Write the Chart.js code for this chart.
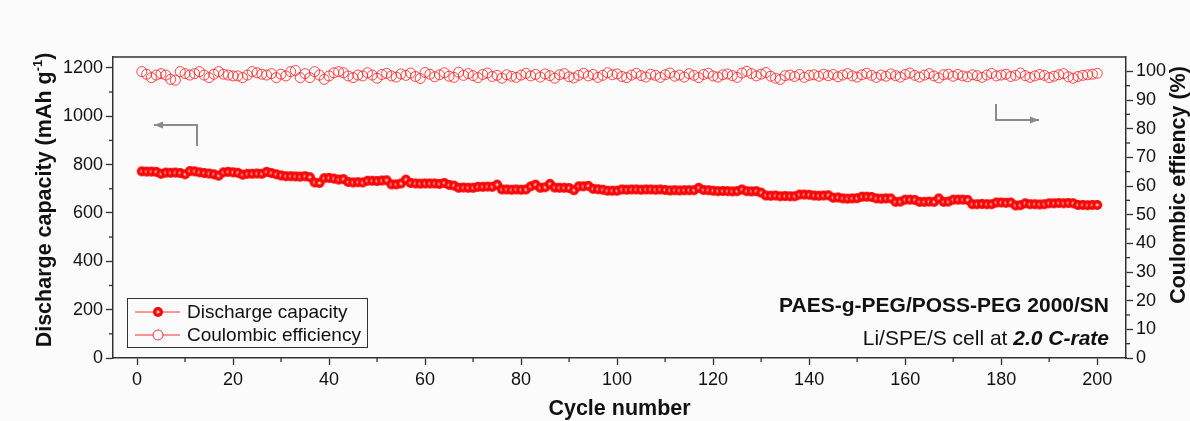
<!DOCTYPE html>
<html>
<head>
<meta charset="utf-8">
<script src="https://cdn.jsdelivr.net/npm/chart.js@4"></script>
<style>
html,body{margin:0;padding:0;background:#fbfbfb;}
#wrap{width:1190px;height:421px;position:relative;}
</style>
</head>
<body>
<div id="wrap"><canvas id="cv"></canvas></div>
<script>
// cycle numbers 1..200
const cycles=Array.from({length:200},(_,i)=>i+1);

// discharge capacity (mAh g-1)
const capacity=[
 772,771,771,770,762,767,766,767,765,760,
 773,772,768,765,763,760,754,768,770,768,
 766,758,762,762,763,762,770,765,760,755,
 752,752,751,750,752,748,726,724,744,745,
 742,738,740,728,726,727,726,733,733,732,
 734,735,718,718,722,738,724,722,721,722,
 722,722,720,724,716,713,704,705,704,704,
 708,708,709,708,717,697,697,696,697,696,
 697,710,717,704,706,720,705,704,704,703,
 694,710,710,712,700,698,696,692,692,692,
 697,696,697,697,696,697,697,696,697,695,
 693,694,693,694,694,694,704,695,694,692,
 690,691,690,689,690,697,690,689,690,684,
 672,671,672,669,670,669,669,676,676,675,
 672,671,672,673,663,664,660,659,660,661,
 667,667,666,660,659,660,660,646,647,655,
 655,654,646,646,647,646,660,646,647,655,
 655,655,654,636,636,637,636,636,643,643,
 642,643,631,632,640,636,636,635,636,640,
 640,641,640,641,640,633,633,632,633,633
];

// coulombic efficiency (%)
const efficiency=[
 99.9,99.0,97.8,98.7,99.2,98.7,97.2,96.9,99.9,99.2,
 98.7,99.2,99.9,98.7,97.8,99.0,99.9,99.0,98.7,98.4,
 98.4,97.8,98.7,99.9,99.5,99.0,98.7,99.2,97.8,99.0,
 98.4,99.9,100.3,97.8,99.2,97.8,99.9,98.7,97.2,98.4,
 99.5,99.9,99.5,98.4,97.8,98.7,98.4,99.5,98.7,97.6,
 98.9,99.3,98.4,98.0,99.1,98.6,99.4,98.2,97.5,99.6,
 99.0,98.1,98.8,99.5,98.3,97.9,99.7,98.6,99.2,98.5,
 97.8,98.9,99.4,98.2,98.6,97.6,98.8,98.3,97.9,98.7,
 99.3,98.4,98.9,98.0,99.1,98.5,97.6,98.8,99.2,98.1,
 97.7,98.6,99.3,98.4,98.9,97.9,98.6,99.5,98.8,99.1,
 98.2,97.8,98.7,99.3,98.5,98.0,99.0,98.6,97.9,98.8,
 99.4,98.3,98.7,98.0,99.2,98.6,97.8,98.9,99.3,98.4,
 98.0,98.8,99.1,98.5,97.9,99.4,100.0,99.2,98.4,99.0,
 99.6,98.3,97.6,97.2,98.5,98.7,98.2,98.9,97.9,98.6,
 98.8,98.3,99.0,98.5,98.9,98.1,98.7,99.2,98.4,98.0,
 98.8,99.3,98.6,97.9,98.7,98.3,99.1,98.5,98.0,98.9,
 99.4,98.6,98.0,98.7,99.2,98.4,97.7,98.8,99.0,98.3,
 98.9,98.4,98.1,98.8,98.5,97.9,98.7,99.3,98.4,98.7,
 99.0,98.2,98.6,99.4,98.5,97.9,98.4,98.9,98.6,97.8,
 98.3,98.8,99.2,98.1,97.6,98.2,98.6,98.8,99.0,99.3
];

// ticks
const xTicks=[0,20,40,60,80,100,120,140,160,180,200];
const xMinor=[10,30,50,70,90,110,130,150,170,190];
const yTicks=[0,200,400,600,800,1000,1200];
const yMinor=[100,300,500,700,900,1100];
const y1Ticks=[0,10,20,30,40,50,60,70,80,90,100];
const y1Minor=[5,15,25,35,45,55,65,75,85,95];

const xTitle='Cycle number';
const yTitle='Discharge capacity (mAh g';
const y1Title='Coulombic effiency (%)';
const legendLabels=['Discharge capacity','Coulombic efficiency'];
const sampleName='PAES-g-PEG/POSS-PEG 2000/SN';

const FONT='"Liberation Sans", Arial, sans-serif';
const AX='#333';

function sphere(r){
  const c=document.createElement('canvas');const s=r*2+2;c.width=c.height=s;
  const g=c.getContext('2d');
  const grd=g.createRadialGradient(s/2,s/2,0,s/2,s/2,r);
  grd.addColorStop(0,'#ffffff');grd.addColorStop(0.18,'#ffb0b0');grd.addColorStop(0.4,'#ff1010');grd.addColorStop(1,'#f40000');
  g.fillStyle=grd;g.beginPath();g.arc(s/2,s/2,r,0,Math.PI*2);g.fill();
  return c;
}
const ball=sphere(5);

function arrow(ctx,pts,dir){
  ctx.save();ctx.strokeStyle='#8a8a8a';ctx.fillStyle='#8a8a8a';ctx.lineWidth=2;
  ctx.beginPath();ctx.moveTo(pts[0][0],pts[0][1]);
  for(let i=1;i<pts.length;i++)ctx.lineTo(pts[i][0],pts[i][1]);
  ctx.stroke();
  const [ex,ey]=pts[pts.length-1];
  ctx.beginPath();ctx.moveTo(ex,ey);ctx.lineTo(ex-dir*9,ey-3.5);ctx.lineTo(ex-dir*9,ey+3.5);ctx.closePath();ctx.fill();
  ctx.restore();
}

const deco={
  id:'deco',
  afterDraw(chart){
    const {ctx,chartArea:a,scales:{x,y,y1}}=chart;
    ctx.save();
    // frame top
    ctx.strokeStyle=AX;ctx.lineWidth=1.5;
    ctx.beginPath();ctx.moveTo(a.left,a.top);ctx.lineTo(a.right,a.top);ctx.stroke();
    // minor ticks
    ctx.lineWidth=1.3;
    xMinor.forEach(v=>{const px=x.getPixelForValue(v);ctx.beginPath();ctx.moveTo(px,a.bottom);ctx.lineTo(px,a.bottom+4);ctx.stroke();});
    yMinor.forEach(v=>{const py=y.getPixelForValue(v);ctx.beginPath();ctx.moveTo(a.left,py);ctx.lineTo(a.left-4,py);ctx.stroke();});
    y1Minor.forEach(v=>{const py=y1.getPixelForValue(v);ctx.beginPath();ctx.moveTo(a.right,py);ctx.lineTo(a.right+4,py);ctx.stroke();});

    // axis titles
    ctx.fillStyle='#111';ctx.textAlign='center';ctx.textBaseline='middle';
    ctx.font=`bold 21.5px ${FONT}`;
    ctx.fillText(xTitle,(a.left+a.right)/2,409);
    ctx.save();ctx.translate(45,200);ctx.rotate(-Math.PI/2);
    const w1=ctx.measureText(yTitle).width;ctx.font=`bold 13px ${FONT}`;const ws=ctx.measureText('-1').width;
    ctx.font=`bold 21.5px ${FONT}`;const w2=ctx.measureText(')').width;
    const tot=w1+ws+w2;ctx.textAlign='left';
    ctx.fillText(yTitle,-tot/2,0);
    ctx.font=`bold 13px ${FONT}`;ctx.fillText('-1',-tot/2+w1,-7);
    ctx.font=`bold 21.5px ${FONT}`;ctx.fillText(')',-tot/2+w1+ws,0);
    ctx.restore();
    ctx.save();ctx.translate(1179,185);ctx.rotate(-Math.PI/2);
    ctx.fillText(y1Title,0,0);ctx.restore();

    // legend
    ctx.lineWidth=1;ctx.strokeStyle='#333';
    ctx.strokeRect(127.5,298.5,240,49);
    const rows=[312,335];
    rows.forEach((ry,i)=>{
      ctx.strokeStyle='#ff3030';ctx.lineWidth=1;
      ctx.beginPath();ctx.moveTo(135,ry);ctx.lineTo(180,ry);ctx.stroke();
      if(i===0){ctx.drawImage(ball,158-6,ry-6);}
      else{ctx.fillStyle='#fff';ctx.beginPath();ctx.arc(158,ry,5,0,Math.PI*2);ctx.fill();ctx.stroke();}
      ctx.fillStyle='#111';ctx.font=`19px ${FONT}`;ctx.textAlign='left';ctx.textBaseline='middle';
      ctx.fillText(legendLabels[i],187,ry+1);
    });

    // sample annotation
    ctx.textAlign='right';ctx.textBaseline='alphabetic';ctx.fillStyle='#111';
    ctx.font=`bold 21px ${FONT}`;ctx.fillText(sampleName,1109,312);
    ctx.font=`bold italic 21px ${FONT}`;
    const bi='2.0 C-rate';const bw=ctx.measureText(bi).width;
    ctx.fillText(bi,1109,345);
    ctx.font=`21px ${FONT}`;ctx.fillText('Li/SPE/S cell at ',1109-bw,345);

    // arrows
    arrow(ctx,[[197,146],[197,125],[154,125]],-1);
    arrow(ctx,[[996,104],[996,120],[1039,120]],1);
    ctx.restore();
  }
};

const tickFont={size:18,family:FONT};
const plain=v=>String(v);
Chart.defaults.color='#111';
new Chart(document.getElementById('cv'),{
  type:'line',
  data:{datasets:[
    {label:legendLabels[1],yAxisID:'y1',data:cycles.map((c,i)=>({x:c,y:efficiency[i]})),
     borderColor:'rgba(255,40,40,0.85)',borderWidth:1,showLine:false,pointStyle:'circle',pointRadius:5,
     pointBackgroundColor:'rgba(0,0,0,0)',pointBorderColor:'rgba(255,40,40,0.85)',pointBorderWidth:1},
    {label:legendLabels[0],yAxisID:'y',data:cycles.map((c,i)=>({x:c,y:capacity[i]})),
     borderColor:'#ff0000',borderWidth:1,pointStyle:ball,pointRadius:5}
  ]},
  options:{
    responsive:true,maintainAspectRatio:false,animation:false,
    layout:{padding:{left:0,right:0,top:57,bottom:0}},
    plugins:{legend:{display:false},tooltip:{enabled:false}},
    scales:{
      x:{type:'linear',min:-5,max:206,
        afterBuildTicks:s=>{s.ticks=xTicks.map(v=>({value:v}))},
        ticks:{font:tickFont,color:'#111',padding:4,maxRotation:0,callback:plain},
        grid:{display:true,drawOnChartArea:false,drawTicks:true,tickLength:7,tickColor:AX,tickWidth:1.3},
        border:{display:true,color:AX,width:1.5},
        afterFit:s=>{s.height=63}},
      y:{type:'linear',position:'left',min:0,max:1245,
        afterBuildTicks:s=>{s.ticks=yTicks.map(v=>({value:v}))},
        ticks:{font:tickFont,color:'#111',padding:3,callback:plain},
        grid:{display:true,drawOnChartArea:false,drawTicks:true,tickLength:7,tickColor:AX,tickWidth:1.3},
        border:{display:true,color:AX,width:1.5},
        afterFit:s=>{s.width=113}},
      y1:{type:'linear',position:'right',min:0,max:105,
        afterBuildTicks:s=>{s.ticks=y1Ticks.map(v=>({value:v}))},
        ticks:{font:tickFont,color:'#111',padding:3,callback:plain},
        grid:{display:true,drawOnChartArea:false,drawTicks:true,tickLength:7,tickColor:AX,tickWidth:1.3},
        border:{display:true,color:AX,width:1.5},
        afterFit:s=>{s.width=64}}
    }
  },
  plugins:[deco]
});
</script>
</body>
</html>
